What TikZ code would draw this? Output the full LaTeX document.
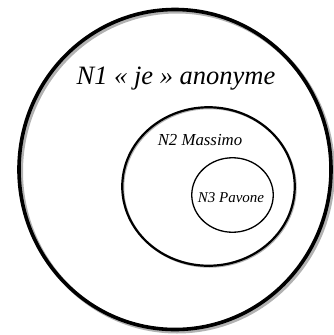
\documentclass[tikz,border=0pt]{standalone}
\usepackage{fontspec}
\setmainfont{Liberation Serif}
\usetikzlibrary{shapes.geometric, positioning}
\tikzset{
  level/.style={ellipse, draw=black, inner sep=0pt},
  levelshadow/.style={ellipse, draw=black!30, inner sep=0pt},
  levellabel/.style={font=\itshape, text=black, inner sep=0pt}
}
\begin{document}
\begin{tikzpicture}[x=1pt, y=-1pt]
  \useasboundingbox (0,0) rectangle (334,335);
  % shadow of the outer level
  \node[levelshadow, line width=4pt, minimum width=312pt, minimum height=320pt] (n1s) at (177,171.5) {};
  \node[level, line width=3.6pt, minimum width=312pt, minimum height=320pt] (n1) at (175,169.5) {};
  \node[levelshadow, line width=2pt, minimum width=172.5pt, minimum height=158.5pt] (n2s) at (209.5,187.5) {};
  \node[level, line width=2.2pt, minimum width=172.5pt, minimum height=158.5pt] (n2) at (208.5,186.5) {};
  \node[level, line width=1.3pt, minimum width=81.5pt, minimum height=74.5pt] (n3) at (232.5,195) {};

  \node[levellabel, font=\itshape\fontsize{26.5}{26.5}\selectfont] (t1) at (176,79) {N1 « je » anonyme};
  \node[levellabel, font=\itshape\fontsize{16.8}{16.8}\selectfont] (t2) at (200,140) {N2 Massimo};
  \node[levellabel, font=\itshape\fontsize{15}{15}\selectfont] (t3) at (231,198) {N3 Pavone};
\end{tikzpicture}
\end{document}
